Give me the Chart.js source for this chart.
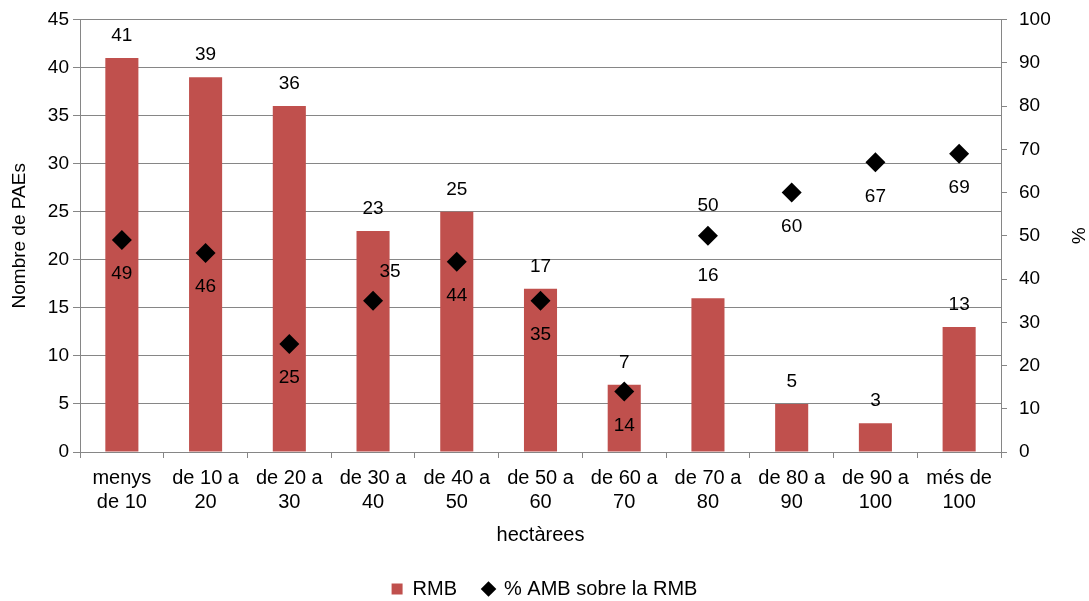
<!DOCTYPE html>
<html>
<head>
<meta charset="utf-8">
<script src="https://cdn.jsdelivr.net/npm/chart.js@4"></script>
<style>
  html, body { margin: 0; padding: 0; background: #fff; }
  #wrap { width: 1089px; height: 601px; }
</style>
</head>
<body>
<div id="wrap"><canvas id="chart"></canvas></div>
<script>
const categories = [
  ['menys', 'de 10'], ['de 10 a', '20'], ['de 20 a', '30'], ['de 30 a', '40'],
  ['de 40 a', '50'], ['de 50 a', '60'], ['de 60 a', '70'], ['de 70 a', '80'],
  ['de 80 a', '90'], ['de 90 a', '100'], ['més de', '100']
];
const rmb = [41, 39, 36, 23, 25, 17, 7, 16, 5, 3, 13];
const pctAmb = [49, 46, 25, 35, 44, 35, 14, 50, 60, 67, 69];
const leftTicks = [0, 5, 10, 15, 20, 25, 30, 35, 40, 45];
const rightTicks = [0, 10, 20, 30, 40, 50, 60, 70, 80, 90, 100];

// where each % label sits relative to its diamond
const pctLabelPos = ['below', 'below', 'below', 'aboveRight', 'below', 'below', 'below', 'above', 'below', 'below', 'below'];

const FONT = "'Liberation Sans', Arial, sans-serif";
Chart.defaults.font.family = FONT;
Chart.defaults.font.size = 19;
Chart.defaults.color = '#000';

const valueLabels = {
  id: 'valueLabels',
  afterDatasetsDraw(chart) {
    const ctx = chart.ctx;
    ctx.save();
    ctx.font = '19px ' + FONT;
    ctx.fillStyle = '#000';
    ctx.textAlign = 'center';
    ctx.textBaseline = 'middle';
    chart.getDatasetMeta(0).data.forEach((bar, i) => {
      ctx.fillText(String(rmb[i]), bar.x, bar.y - 22);
    });
    chart.getDatasetMeta(1).data.forEach((pt, i) => {
      let dx = 0, dy = 34;
      if (pctLabelPos[i] === 'above') dy = -30;
      if (pctLabelPos[i] === 'aboveRight') { dx = 17; dy = -29; }
      ctx.fillText(String(pctAmb[i]), pt.x + dx, pt.y + dy);
    });
    ctx.restore();
  }
};

new Chart(document.getElementById('chart'), {
  data: {
    labels: categories,
    datasets: [{
      type: 'bar',
      label: 'RMB',
      data: rmb,
      backgroundColor: '#C0504D',
      barPercentage: 0.395,
      categoryPercentage: 1,
      yAxisID: 'y',
      pointStyle: 'rect',
      order: 1
    }, {
      type: 'line',
      label: '% AMB sobre la RMB',
      data: pctAmb,
      showLine: false,
      pointStyle: 'rectRot',
      pointRadius: 10,
      pointHoverRadius: 10,
      backgroundColor: '#000',
      borderColor: '#000',
      borderWidth: 0,
      yAxisID: 'y1',
      order: 0
    }]
  },
  options: {
    responsive: true,
    maintainAspectRatio: false,
    animation: false,
    layout: { padding: { top: 19, left: 0, right: 0, bottom: -8 } },
    plugins: {
      tooltip: { enabled: false },
      legend: {
        position: 'bottom',
        labels: {
          usePointStyle: true,
          boxWidth: 11,
          boxHeight: 11,
          padding: 26,
          color: '#000',
          font: { size: 20, family: FONT },
          sort: (a, b) => a.datasetIndex - b.datasetIndex
        }
      }
    },
    scales: {
      x: {
        offset: true,
        grid: { offset: true, drawOnChartArea: false, drawTicks: true, tickLength: 6, color: '#868686' },
        border: { color: '#868686' },
        ticks: { color: '#000', font: { size: 20, lineHeight: 1.2 }, maxRotation: 0, autoSkip: false, padding: 8 },
        title: { display: true, text: 'hectàrees', color: '#000', font: { size: 20 }, padding: { top: 2, bottom: 6 } },
        afterFit(scale) { scale.height = 101; }
      },
      y: {
        position: 'left',
        min: 0,
        max: 45,
        afterBuildTicks(scale) { scale.ticks = leftTicks.map(v => ({ value: v })); },
        grid: { color: '#868686', tickLength: 7 },
        border: { color: '#868686' },
        ticks: { color: '#000', font: { size: 19, lineHeight: 0.8 }, padding: 4 },
        title: { display: true, text: 'Nombre de PAEs', color: '#000', font: { size: 19 }, padding: { top: 8, bottom: 0 } },
        afterFit(scale) { scale.width = 80; }
      },
      y1: {
        position: 'right',
        min: 0,
        max: 100,
        afterBuildTicks(scale) { scale.ticks = rightTicks.map(v => ({ value: v })); },
        grid: { drawOnChartArea: false, color: '#868686', tickLength: 6 },
        border: { color: '#868686' },
        ticks: { color: '#000', font: { size: 19, lineHeight: 0.8 }, padding: 12 },
        title: { display: true, text: '%', color: '#000', font: { size: 19 }, padding: { top: 0, bottom: 6 } },
        afterFit(scale) { scale.width = 88; }
      }
    }
  },
  plugins: [valueLabels]
});
</script>
</body>
</html>
